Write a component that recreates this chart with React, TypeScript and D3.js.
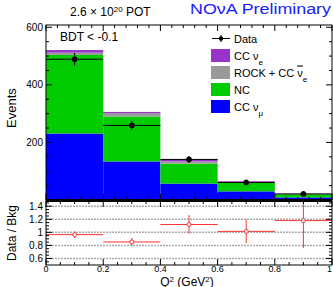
import React from "react";
import * as d3 from "d3";

const binEdges = [0, 0.2, 0.4, 0.6, 0.8, 1.0];
const ccNumu = [231, 134, 57, 30, 9];
const ncVals = [273, 156, 69, 30, 11];
const rockVals = [8, 12, 8, 2, 1];
const ccNue = [9, 4, 8, 3, 1];
const dataVals = [489, 259, 141, 61, 21];
const ratioVals = [0.965, 0.853, 1.12, 1.015, 1.18];
const ratioErr = [0.05, 0.06, 0.145, 0.18, 0.42];
const topTicks = [200, 400, 600];
const ratioTicks = [0.6, 0.8, 1, 1.2, 1.4];
const xTicks = [0, 0.2, 0.4, 0.6, 0.8, 1];

const W = 333, H = 287;
const X0 = 46, X1 = 332;
const TOP0 = 25, TOP1 = 200;
const BOT0 = 201, BOT1 = 265;
const FONT = "'Liberation Sans', Arial, Helvetica, sans-serif";

const colors = { numu: "#0000ff", nc: "#00cc00", rock: "#999999", nue: "#9933cc" };

export default function App() {
  const x = d3.scaleLinear().domain([0, 1]).range([X0, X1]);
  const y = d3.scaleLinear().domain([0, 608]).range([TOP1, TOP0]);
  const yr = d3.scaleLinear().domain([0.5, 1.48]).range([BOT1, BOT0]);

  const layers = [
    { key: "numu", vals: ccNumu },
    { key: "nc", vals: ncVals },
    { key: "rock", vals: rockVals },
    { key: "nue", vals: ccNue },
  ];
  const rects: JSX.Element[] = [];
  const cum = [0, 0, 0, 0, 0];
  layers.forEach((l) => {
    l.vals.forEach((v, i) => {
      const y0 = cum[i];
      const y1 = cum[i] + v;
      cum[i] = y1;
      rects.push(
        <rect key={l.key + i} x={x(binEdges[i])} width={x(binEdges[i + 1]) - x(binEdges[i])}
          y={y(y1)} height={y(y0) - y(y1)} fill={(colors as any)[l.key]} />
      );
    });
  });

  const minorTop = d3.range(0, 601, 50);
  const xMinor = d3.range(0, 1.0001, 0.04);
  const xMinorB = d3.range(0, 1.0001, 0.05);
  const ratioMinor = d3.range(0.55, 1.48, 0.05);

  const legend = [
    { label: <>CC ν<tspan baselineShift="sub" fontSize="8">e</tspan></>, color: colors.nue },
    { label: <>ROCK + CC <tspan textDecoration="overline">ν</tspan><tspan baselineShift="sub" fontSize="8">e</tspan></>, color: colors.rock },
    { label: <>NC</>, color: colors.nc },
    { label: <>CC ν<tspan baselineShift="sub" fontSize="8">μ</tspan></>, color: colors.numu },
  ];

  return (
    <svg width={W} height={H} style={{ position: "absolute", left: 0, top: 0, background: "#fff" }} fontFamily={FONT}>
      <rect x={0} y={0} width={W} height={H} fill="#fff" />
      {rects}
      {dataVals.map((v, i) => {
        const cx = x((binEdges[i] + binEdges[i + 1]) / 2);
        const e = Math.sqrt(v);
        return (
          <g key={"d" + i} stroke="#000" strokeWidth={1}>
            <line x1={x(binEdges[i])} x2={x(binEdges[i + 1])} y1={y(v)} y2={y(v)} />
            <line x1={cx} x2={cx} y1={y(v - e)} y2={y(v + e)} />
            <circle cx={cx} cy={y(v)} r={2.5} fill="#000" />
          </g>
        );
      })}
      <rect x={X0} y={TOP0} width={X1 - X0} height={TOP1 - TOP0} fill="none" stroke="#000" strokeWidth={1} />
      <line x1={X0} x2={X1} y1={TOP1} y2={TOP1} stroke="#000" strokeWidth={2} />
      {minorTop.map((v) => {
        const major = v % 200 === 0;
        const L = major ? 6 : 3;
        return (
          <g key={"yt" + v} stroke="#000" strokeWidth={1}>
            <line x1={X0} x2={X0 + L} y1={y(v)} y2={y(v)} />
            <line x1={X1} x2={X1 - L} y1={y(v)} y2={y(v)} />
          </g>
        );
      })}
      {xMinor.map((v, i) => {
        const major = i % 5 === 0;
        const L = major ? 6 : 3;
        return (
          <g key={"xt" + i} stroke="#000" strokeWidth={1}>
            <line x1={x(v)} x2={x(v)} y1={TOP0} y2={TOP0 + L} />
            <line x1={x(v)} x2={x(v)} y1={TOP1} y2={TOP1 - L} />
          </g>
        );
      })}
      {topTicks.map((v) => (
        <text key={"yl" + v} x={X0 - 3} y={y(v) + 3.5} textAnchor="end" fontSize={10}>{v}</text>
      ))}

      {ratioTicks.map((v) => (
        <line key={"g" + v} x1={X0} x2={X1} y1={yr(v)} y2={yr(v)} stroke="#aaa" strokeWidth={1.5} strokeDasharray="2,1" />
      ))}
      {ratioVals.map((v, i) => {
        const cx = x((binEdges[i] + binEdges[i + 1]) / 2);
        const top = Math.min(v + ratioErr[i], 1.48);
        return (
          <g key={"r" + i} stroke="#ff3333" strokeWidth={1}>
            <line x1={x(binEdges[i])} x2={x(binEdges[i + 1])} y1={yr(v)} y2={yr(v)} />
            <line x1={cx} x2={cx} y1={yr(v - ratioErr[i])} y2={yr(top)} />
            <circle cx={cx} cy={yr(v)} r={2} fill="#fff" />
          </g>
        );
      })}
      <rect x={X0} y={BOT0} width={X1 - X0} height={BOT1 - BOT0} fill="none" stroke="#000" strokeWidth={1} />
      <line x1={X0} x2={X1} y1={BOT0} y2={BOT0} stroke="#000" strokeWidth={2} />
      {ratioMinor.map((v, i) => {
        const major = Math.abs(v * 5 - Math.round(v * 5)) < 1e-6;
        const L = major ? 6 : 3;
        return (
          <g key={"rt" + i} stroke="#000" strokeWidth={1}>
            <line x1={X0} x2={X0 + L} y1={yr(v)} y2={yr(v)} />
            <line x1={X1} x2={X1 - L} y1={yr(v)} y2={yr(v)} />
          </g>
        );
      })}
      {xMinorB.map((v, i) => {
        const major = i % 4 === 0;
        const L = major ? 6 : 3;
        return (
          <g key={"xb" + i} stroke="#000" strokeWidth={1}>
            <line x1={x(v)} x2={x(v)} y1={BOT1} y2={BOT1 - L} />
            <line x1={x(v)} x2={x(v)} y1={BOT0} y2={BOT0 + L} />
          </g>
        );
      })}
      {ratioTicks.map((v) => (
        <text key={"rl" + v} x={X0 - 3} y={yr(v) + 3.5} textAnchor="end" fontSize={10}>{v}</text>
      ))}
      {xTicks.map((v) => (
        <text key={"xl" + v} x={Math.min(x(v), 329.5)} y={272} textAnchor="middle" fontSize={9}>{v}</text>
      ))}

      <text x={0} y={0} transform="translate(16,108) rotate(-90)" textAnchor="middle" fontSize={13}>Events</text>
      <text x={0} y={0} transform="translate(16,233) rotate(-90)" textAnchor="middle" fontSize={12}>Data / Bkg</text>
      <text x={187} y={285.5} textAnchor="middle" fontSize={12}>
        Q<tspan baselineShift="super" fontSize="8">2</tspan><tspan baselineShift="0"> (GeV</tspan><tspan baselineShift="super" fontSize="8">2</tspan><tspan baselineShift="0">)</tspan>
      </text>
      <text x={70} y={16} fontSize={12}>
        2.6 × 10<tspan baselineShift="super" fontSize="8">20</tspan><tspan baselineShift="0"> POT</tspan>
      </text>
      <text x={190} y={14} fontSize={15.5} fill="#1a1aff" textLength={141} lengthAdjust="spacingAndGlyphs">NOνA Preliminary</text>
      <text x={60} y={41} fontSize={12}>BDT &lt; -0.1</text>

      <g>
        <line x1={212} x2={230} y1={38.5} y2={38.5} stroke="#000" />
        <line x1={221} x2={221} y1={35} y2={42} stroke="#000" />
        <circle cx={221} cy={38.5} r={2.2} fill="#000" />
        <text x={234} y={42.5} fontSize={11}>Data</text>
        {legend.map((l, i) => {
          const cy = 55.5 + i * 17;
          return (
            <g key={"lg" + i}>
              <rect x={211} y={cy - 6.5} width={19} height={13} fill={l.color} />
              <text x={234} y={cy + 4} fontSize={11}>{l.label}</text>
            </g>
          );
        })}
      </g>
    </svg>
  );
}
